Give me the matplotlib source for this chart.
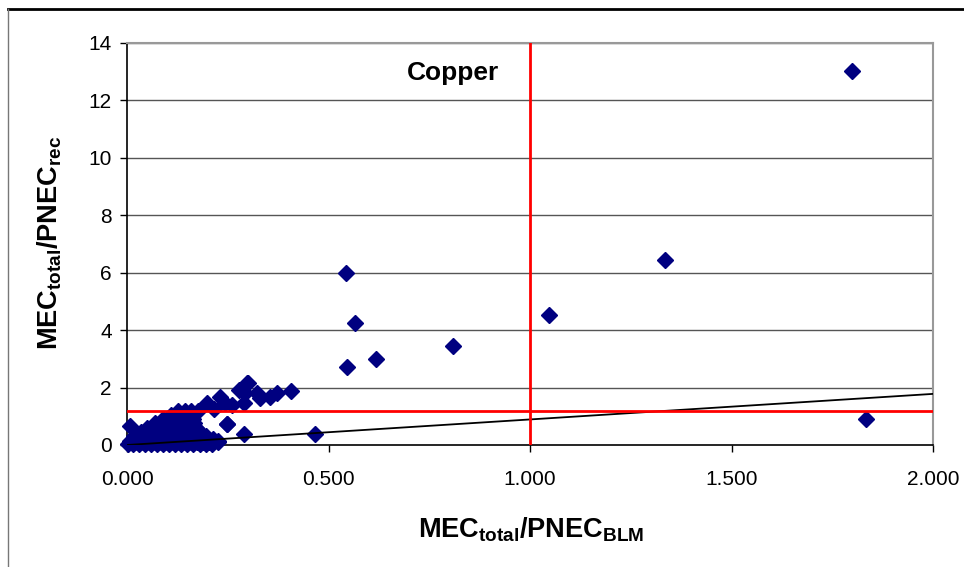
import matplotlib
matplotlib.use("Agg")
import matplotlib.pyplot as plt
from matplotlib.lines import Line2D

plt.rcParams["font.family"] = ["Liberation Sans", "DejaVu Sans"]
plt.rcParams["mathtext.fontset"] = "custom"
plt.rcParams["mathtext.rm"] = "Liberation Sans:bold"
plt.rcParams["mathtext.bf"] = "Liberation Sans:bold"
plt.rcParams["mathtext.it"] = "Liberation Sans:bold"

# ---- data ----
# dense cluster near the origin (MEC/PNEC_BLM, MEC/PNEC_rec)
cluster_x = [
    0.002, 0.015, 0.030, 0.045, 0.060, 0.075, 0.090, 0.105, 0.120, 0.135, 0.150, 0.165, 0.180, 0.195, 0.210,
    0.010, 0.024, 0.039, 0.054, 0.069, 0.084, 0.099, 0.114, 0.129, 0.144, 0.159, 0.174, 0.189, 0.204, 0.226,
    0.008, 0.022, 0.038, 0.052, 0.068, 0.083, 0.097, 0.112, 0.128, 0.142, 0.158, 0.172, 0.188, 0.203, 0.225,
    0.014, 0.028, 0.043, 0.058, 0.073, 0.088, 0.103, 0.118, 0.133, 0.148, 0.163, 0.178, 0.193, 0.214,
    0.018, 0.032, 0.047, 0.061, 0.076, 0.091, 0.106, 0.121, 0.137, 0.151, 0.166, 0.182, 0.196,
    0.035, 0.050, 0.064, 0.079, 0.094, 0.109, 0.124, 0.139, 0.154, 0.169, 0.180,
    0.050, 0.063, 0.077, 0.091, 0.105, 0.119, 0.133, 0.147, 0.160, 0.172,
    0.070, 0.085, 0.099, 0.113, 0.127, 0.141, 0.155, 0.167,
    0.090, 0.106, 0.121, 0.135, 0.149, 0.163,
    0.110, 0.126, 0.141, 0.156,
    0.126, 0.143, 0.160, 0.176,
]
cluster_y = [
    0.03, 0.03, 0.03, 0.03, 0.03, 0.03, 0.03, 0.03, 0.03, 0.03, 0.03, 0.03, 0.03, 0.03, 0.03,
    0.09, 0.09, 0.09, 0.09, 0.09, 0.09, 0.09, 0.09, 0.09, 0.09, 0.09, 0.09, 0.09, 0.09, 0.09,
    0.15, 0.15, 0.15, 0.15, 0.15, 0.15, 0.15, 0.15, 0.15, 0.15, 0.15, 0.15, 0.15, 0.15, 0.15,
    0.22, 0.22, 0.22, 0.22, 0.22, 0.22, 0.22, 0.22, 0.22, 0.22, 0.22, 0.22, 0.22, 0.22,
    0.30, 0.30, 0.30, 0.30, 0.30, 0.30, 0.30, 0.30, 0.30, 0.30, 0.30, 0.30, 0.30,
    0.45, 0.45, 0.45, 0.45, 0.45, 0.45, 0.45, 0.45, 0.45, 0.45, 0.45,
    0.60, 0.60, 0.60, 0.60, 0.60, 0.60, 0.60, 0.60, 0.60, 0.60,
    0.75, 0.75, 0.75, 0.75, 0.75, 0.75, 0.75, 0.75,
    0.90, 0.90, 0.90, 0.90, 0.90, 0.90,
    1.05, 1.05, 1.05, 1.05,
    1.20, 1.20, 1.20, 1.20,
]

# individual points outside the cluster
other_x = [0.007, 0.198, 0.216, 0.231, 0.243, 0.249, 0.260, 0.279, 0.290, 0.293, 0.297,
           0.301, 0.323, 0.330, 0.356, 0.371, 0.407, 0.247, 0.291, 0.466,
           0.543, 0.566, 0.547, 0.617, 0.809, 1.047, 1.336, 1.800, 1.834]
other_y = [0.65, 1.47, 1.24, 1.68, 1.46, 0.72, 1.39, 1.92, 1.46, 1.81, 2.17,
           2.15, 1.80, 1.64, 1.68, 1.82, 1.88, 0.73, 0.40, 0.38,
           6.00, 4.24, 2.73, 3.00, 3.45, 4.53, 6.45, 13.03, 0.90]

trend_x = [0.0, 2.0]
trend_y = [0.0, 1.78]

threshold_x = 1.0
threshold_y = 1.19

xticks = [0.0, 0.5, 1.0, 1.5, 2.0]
yticks = [0, 2, 4, 6, 8, 10, 12, 14]

fig = plt.figure(figsize=(9.64, 5.67), dpi=100)
ax = fig.add_axes([127 / 964, 1 - 445 / 567, (933 - 127) / 964, (445 - 43) / 567])

for y in yticks[1:]:
    ax.axhline(y, color="#555555", lw=1.0, zorder=0)

ax.plot(cluster_x + other_x, cluster_y + other_y, ls="none", marker="D",
        ms=8.5, color="#000080", mec="#000080", clip_on=False, zorder=3)

ax.plot(trend_x, trend_y, color="black", lw=1.3, zorder=4)
ax.axvline(threshold_x, color="red", lw=2, zorder=5)
ax.axhline(threshold_y, color="red", lw=2, zorder=5)

ax.text(0.81, 12.95, "Copper", fontsize=19, fontweight="bold", ha="center", va="center")

ax.set_xlim(0, 2)
ax.set_ylim(0, 14)
ax.set_xticks(xticks)
ax.set_xticklabels([f"{v:.3f}" for v in xticks])
ax.set_yticks(yticks)
ax.tick_params(direction="out", length=5, width=1, labelsize=15, pad=13)
ax.tick_params(axis="y", pad=6)

for side in ("top", "right"):
    ax.spines[side].set_color("#999999")
    ax.spines[side].set_linewidth(1.5)
for side in ("left", "bottom"):
    ax.spines[side].set_color("black")
    ax.spines[side].set_linewidth(1.2)

fig.text(531 / 964, 1 - 530 / 567, r"$\mathrm{MEC_{total}/PNEC_{BLM}}$",
         fontsize=19.5, ha="center", va="center")
fig.text(50 / 964, 1 - 243 / 567, r"$\mathrm{MEC_{total}/PNEC_{rec}}$",
         fontsize=19.5, ha="center", va="center", rotation=90)

# outer frame of the original chart object
fig.add_artist(Line2D([8 / 964, 1], [1 - 9 / 567] * 2, color="black", lw=2,
                      transform=fig.transFigure))
fig.add_artist(Line2D([8 / 964] * 2, [0, 1 - 9 / 567], color="#777777", lw=1,
                      transform=fig.transFigure))

fig.savefig("out.png", dpi=100)
